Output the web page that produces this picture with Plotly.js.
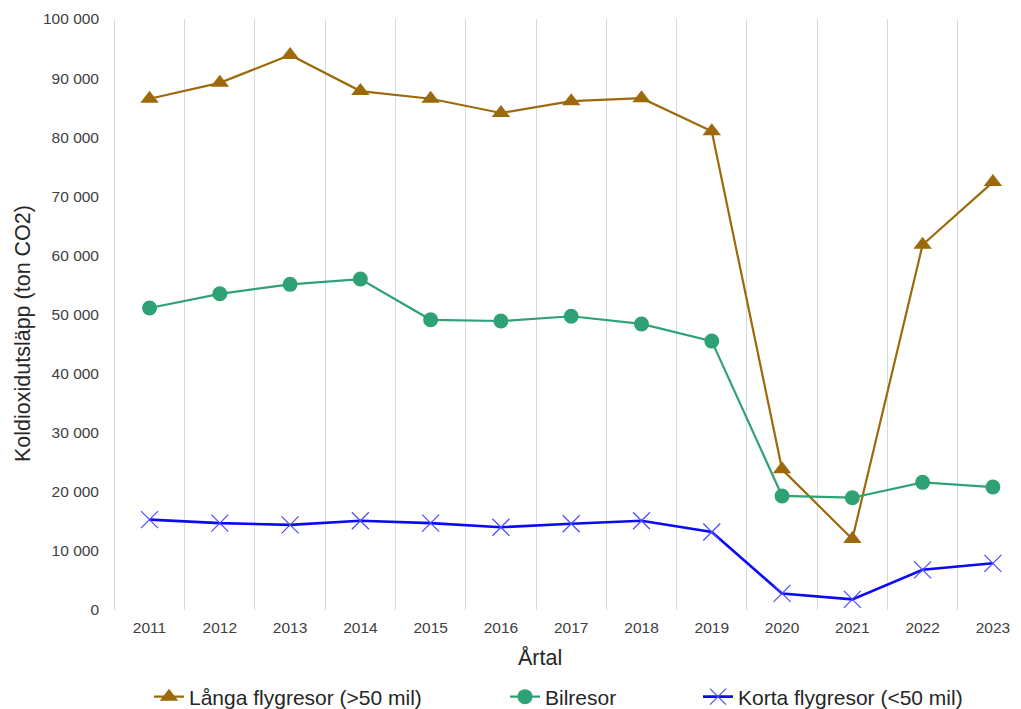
<!DOCTYPE html>
<html>
<head>
<meta charset="utf-8">
<script src="https://cdn.plot.ly/plotly-3.0.1.min.js"></script>
<style>html,body{margin:0;padding:0;background:#fff;}#chart{width:1021px;height:709px;}</style>
</head>
<body>
<div id="chart"></div>
<script>
const years = ['2011','2012','2013','2014','2015','2016','2017','2018','2019','2020','2021','2022','2023'];
const langaFlyg = [86500, 89200, 93900, 87800, 86500, 84100, 86100, 86600, 81000, 23800, 12000, 61800, 72400];
const bilresor = [51100, 53500, 55100, 56000, 49100, 48900, 49700, 48400, 45500, 19300, 19000, 21600, 20800];
const kortaFlyg = [15300, 14700, 14400, 15100, 14700, 14000, 14600, 15100, 13200, 2800, 1800, 6800, 7900];
const yTicks = [0, 10000, 20000, 30000, 40000, 50000, 60000, 70000, 80000, 90000, 100000];
const seriesNames = ['Långa flygresor (>50 mil)', 'Bilresor', 'Korta flygresor (<50 mil)'];

const FONT = 'Liberation Sans, Arial, sans-serif';
const L = 113, T = 19, B = 99, W = 1021, H = 709;
const PW = W - L, PH = H - T - B;

const traces = [
  {
    x: years, y: langaFlyg, name: seriesNames[0], type: 'scatter', mode: 'lines+markers', legend: 'legend',
    line: {color: '#9C6A0C', width: 2.2},
    marker: {symbol: 'triangle-up', size: 16, color: '#9C6A0C'}
  },
  {
    x: years, y: bilresor, name: seriesNames[1], type: 'scatter', mode: 'lines+markers', legend: 'legend2',
    line: {color: '#2EA274', width: 2.2},
    marker: {symbol: 'circle', size: 15, color: '#2EA274'}
  },
  {
    x: years, y: kortaFlyg, name: seriesNames[2], type: 'scatter', mode: 'lines+markers', legend: 'legend3',
    line: {color: '#0A0AF5', width: 2.6},
    marker: {symbol: 'x-thin-open', size: 17, color: '#4A4AFF', line: {color: '#4A4AFF', width: 1.2}}
  }
];

function leg(px) {
  return {
    orientation: 'h', x: (px - L) / PW, xanchor: 'left', y: (610 - 697) / PH, yanchor: 'middle',
    font: {family: FONT, size: 21, color: '#262626'}, itemwidth: 30, bgcolor: 'rgba(0,0,0,0)'
  };
}

const layout = {
  width: W, height: H,
  margin: {l: L, r: 0, t: T, b: B, pad: 0, autoexpand: false},
  paper_bgcolor: '#fff', plot_bgcolor: '#fff',
  separators: ', ',
  font: {family: FONT, color: '#262626'},
  showlegend: true,
  legend: leg(149),
  legend2: leg(505),
  legend3: leg(698),
  xaxis: {
    type: 'category', range: [-0.52, 12.4],
    tickson: 'boundaries', ticks: '', showgrid: true, gridcolor: '#D9D9D9', gridwidth: 1,
    showline: false, zeroline: false,
    tickfont: {family: FONT, size: 15.5, color: '#404040'},
    ticklabelstandoff: 6
  },
  yaxis: {
    range: [0, 100000], tickvals: yTicks, tickformat: ',d',
    showgrid: false, zeroline: false, showline: false, ticks: '',
    tickfont: {family: FONT, size: 15.5, color: '#404040'},
    ticklabelstandoff: 13
  },
  annotations: [
    {text: 'Årtal', xref: 'paper', yref: 'paper', x: (540 - L) / PW, y: (610 - 658) / PH,
     xanchor: 'center', yanchor: 'middle', showarrow: false, font: {family: FONT, size: 21.5, color: '#262626'}},
    {text: 'Koldioxidutsläpp (ton CO2)', xref: 'paper', yref: 'paper', x: (23 - L) / PW, y: (610 - 334) / PH,
     xanchor: 'center', yanchor: 'middle', textangle: -90, showarrow: false, font: {family: FONT, size: 21.5, color: '#262626'}}
  ]
};

Plotly.newPlot('chart', traces, layout, {displayModeBar: false, staticPlot: true});
</script>
</body>
</html>
